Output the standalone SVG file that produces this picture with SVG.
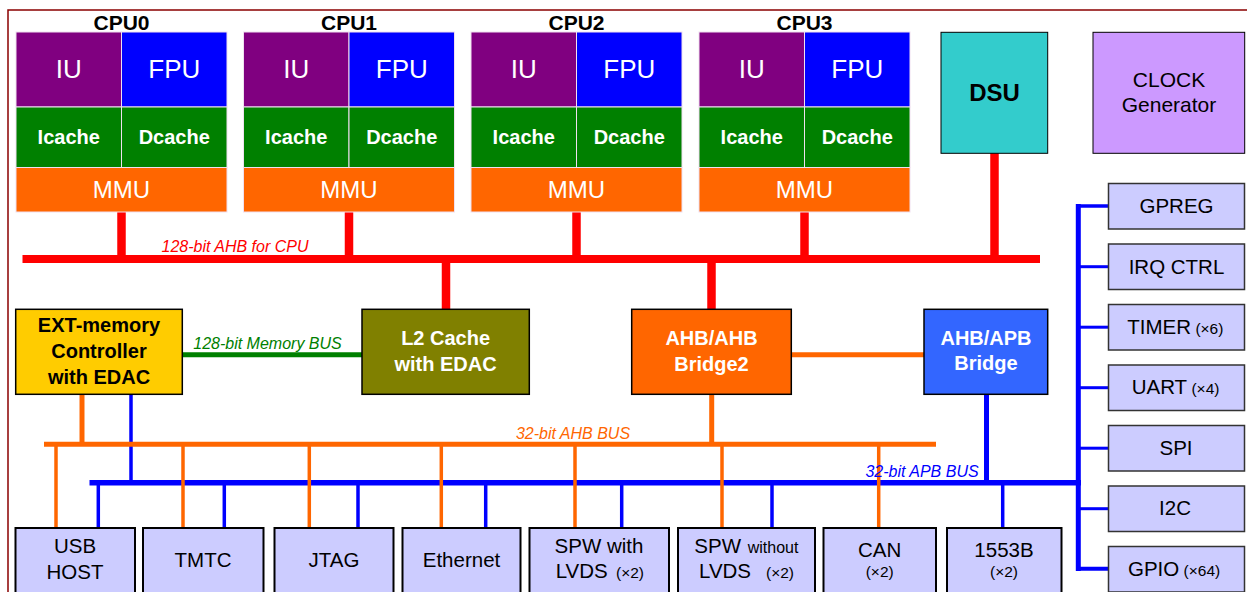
<svg xmlns="http://www.w3.org/2000/svg" width="1247" height="592" viewBox="0 0 1247 592">
<style>
text{font-family:"Liberation Sans",Arial,sans-serif}
.cpul{font-size:21px;font-weight:bold;fill:#000;text-anchor:middle}
.cell{stroke:#f0e0f0;stroke-width:1}
.big{font-size:26px;fill:#fff;text-anchor:middle}
.cache{font-size:20px;font-weight:bold;fill:#fff;text-anchor:middle}
.mmu{font-size:24px;fill:#fff;text-anchor:middle}
.mid{stroke:#000;stroke-width:1.5}
.midt{font-size:20px;font-weight:bold;text-anchor:middle}
.per{fill:#CCCCFF;stroke:#333;stroke-width:1.5}
.bot{fill:#CCCCFF;stroke:#000;stroke-width:2}
.pt{font-size:20.5px;fill:#000}
.pm{text-anchor:middle}
.sm{font-size:15.5px}
.bl{font-size:16px;font-style:italic;text-anchor:middle}
line{stroke-linecap:butt;fill:none}
.red{stroke:#FF0000}
.org{stroke:#FF6600}
.blu{stroke:#0000FF}
.grn{stroke:#008000}
</style>
<rect x="8" y="10" width="1400" height="700" fill="none" stroke="#8B0000" stroke-width="1.5"/>

<g id="connectors">
  <line class="red" x1="22.5" y1="259" x2="1040" y2="259" stroke-width="8"/>
  <line class="red" x1="121.5" y1="212" x2="121.5" y2="259" stroke-width="8.5"/>
  <line class="red" x1="349" y1="212" x2="349" y2="259" stroke-width="8.5"/>
  <line class="red" x1="576.5" y1="212" x2="576.5" y2="259" stroke-width="8.5"/>
  <line class="red" x1="804.5" y1="212" x2="804.5" y2="259" stroke-width="8.5"/>
  <line class="red" x1="994.5" y1="153" x2="994.5" y2="259" stroke-width="8.5"/>
  <line class="red" x1="446" y1="259" x2="446" y2="309.5" stroke-width="8.5"/>
  <line class="red" x1="711.5" y1="259" x2="711.5" y2="309.5" stroke-width="8.5"/>
  <line class="grn" x1="182.5" y1="354.7" x2="362" y2="354.7" stroke-width="5"/>
  <line class="org" x1="791.5" y1="354.7" x2="924" y2="354.7" stroke-width="5"/>
  <line class="org" x1="711.7" y1="394.5" x2="711.7" y2="444.5" stroke-width="5"/>
  <line class="org" x1="82" y1="394.5" x2="82" y2="444.5" stroke-width="5"/>
  <line class="blu" x1="131" y1="394.5" x2="131" y2="482.7" stroke-width="3.5"/>
  <line class="org" x1="44" y1="444.3" x2="936" y2="444.3" stroke-width="5"/>
  <line class="blu" x1="89.5" y1="482.7" x2="1081" y2="482.7" stroke-width="5.5"/>
  <line class="blu" x1="986.5" y1="394.5" x2="986.5" y2="481" stroke-width="5"/>
  <line class="blu" x1="1078.3" y1="204" x2="1078.3" y2="571" stroke-width="5"/>
  <line class="blu" x1="1076" y1="206" x2="1108.5" y2="206" stroke-width="3.5"/>
  <line class="blu" x1="1076" y1="568.8" x2="1108.5" y2="568.8" stroke-width="4"/>
  <line class="blu" x1="1080" y1="266.7" x2="1108.5" y2="266.7" stroke-width="3"/>
  <line class="blu" x1="1080" y1="327.2" x2="1108.5" y2="327.2" stroke-width="3"/>
  <line class="blu" x1="1080" y1="387.7" x2="1108.5" y2="387.7" stroke-width="3"/>
  <line class="blu" x1="1080" y1="448.2" x2="1108.5" y2="448.2" stroke-width="3"/>
  <line class="blu" x1="1080" y1="508.7" x2="1108.5" y2="508.7" stroke-width="3"/>
  <g stroke-width="3.5">
    <line class="blu" x1="98.3" y1="482.7" x2="98.3" y2="528"/>
    <line class="blu" x1="224.3" y1="482.7" x2="224.3" y2="528"/>
    <line class="blu" x1="358" y1="482.7" x2="358" y2="528"/>
    <line class="blu" x1="485.7" y1="482.7" x2="485.7" y2="528"/>
    <line class="blu" x1="621.7" y1="482.7" x2="621.7" y2="528"/>
    <line class="blu" x1="772" y1="482.7" x2="772" y2="528"/>
    <line class="blu" x1="1002.7" y1="482.7" x2="1002.7" y2="528"/>
    <line class="org" x1="56" y1="444.3" x2="56" y2="528"/>
    <line class="org" x1="183" y1="444.3" x2="183" y2="528"/>
    <line class="org" x1="309.3" y1="444.3" x2="309.3" y2="528"/>
    <line class="org" x1="441.3" y1="444.3" x2="441.3" y2="528"/>
    <line class="org" x1="575" y1="444.3" x2="575" y2="528"/>
    <line class="org" x1="722" y1="444.3" x2="722" y2="528"/>
    <line class="org" x1="878.7" y1="444.3" x2="878.7" y2="528"/>
  </g>
  <text class="bl" x="235" y="252" fill="#FF0000">128-bit AHB for CPU</text>
  <text class="bl" x="267.5" y="349" fill="#008000">128-bit Memory BUS</text>
  <text class="bl" x="573" y="438.5" fill="#FF6600">32-bit AHB BUS</text>
  <text class="bl" x="922" y="477" fill="#0000FF">32-bit APB BUS</text>
</g>

<g id="cpu0">
  <text class="cpul" x="121.5" y="30">CPU0</text>
  <rect class="cell" x="16" y="32" width="105.5" height="75" fill="#800080"/>
  <rect class="cell" x="121.5" y="32" width="105.5" height="75" fill="#0000FF"/>
  <rect class="cell" x="16" y="107" width="105.5" height="60.5" fill="#008000"/>
  <rect class="cell" x="121.5" y="107" width="105.5" height="60.5" fill="#008000"/>
  <rect class="cell" x="16" y="167.5" width="211" height="44.5" fill="#FF6600"/>
  <text class="big" x="68.75" y="77.5">IU</text>
  <text class="big" x="174.25" y="77.5">FPU</text>
  <text class="cache" x="68.75" y="144">Icache</text>
  <text class="cache" x="174.25" y="144">Dcache</text>
  <text class="mmu" x="121.5" y="198.3">MMU</text>
</g>
<g id="cpu1">
  <text class="cpul" x="349" y="30">CPU1</text>
  <rect class="cell" x="243.5" y="32" width="105.5" height="75" fill="#800080"/>
  <rect class="cell" x="349" y="32" width="105.5" height="75" fill="#0000FF"/>
  <rect class="cell" x="243.5" y="107" width="105.5" height="60.5" fill="#008000"/>
  <rect class="cell" x="349" y="107" width="105.5" height="60.5" fill="#008000"/>
  <rect class="cell" x="243.5" y="167.5" width="211" height="44.5" fill="#FF6600"/>
  <text class="big" x="296.25" y="77.5">IU</text>
  <text class="big" x="401.75" y="77.5">FPU</text>
  <text class="cache" x="296.25" y="144">Icache</text>
  <text class="cache" x="401.75" y="144">Dcache</text>
  <text class="mmu" x="349" y="198.3">MMU</text>
</g>
<g id="cpu2">
  <text class="cpul" x="576.5" y="30">CPU2</text>
  <rect class="cell" x="471" y="32" width="105.5" height="75" fill="#800080"/>
  <rect class="cell" x="576.5" y="32" width="105.5" height="75" fill="#0000FF"/>
  <rect class="cell" x="471" y="107" width="105.5" height="60.5" fill="#008000"/>
  <rect class="cell" x="576.5" y="107" width="105.5" height="60.5" fill="#008000"/>
  <rect class="cell" x="471" y="167.5" width="211" height="44.5" fill="#FF6600"/>
  <text class="big" x="523.75" y="77.5">IU</text>
  <text class="big" x="629.25" y="77.5">FPU</text>
  <text class="cache" x="523.75" y="144">Icache</text>
  <text class="cache" x="629.25" y="144">Dcache</text>
  <text class="mmu" x="576.5" y="198.3">MMU</text>
</g>
<g id="cpu3">
  <text class="cpul" x="804.5" y="30">CPU3</text>
  <rect class="cell" x="699" y="32" width="105.5" height="75" fill="#800080"/>
  <rect class="cell" x="804.5" y="32" width="105.5" height="75" fill="#0000FF"/>
  <rect class="cell" x="699" y="107" width="105.5" height="60.5" fill="#008000"/>
  <rect class="cell" x="804.5" y="107" width="105.5" height="60.5" fill="#008000"/>
  <rect class="cell" x="699" y="167.5" width="211" height="44.5" fill="#FF6600"/>
  <text class="big" x="751.75" y="77.5">IU</text>
  <text class="big" x="857.25" y="77.5">FPU</text>
  <text class="cache" x="751.75" y="144">Icache</text>
  <text class="cache" x="857.25" y="144">Dcache</text>
  <text class="mmu" x="804.5" y="198.3">MMU</text>
</g>

<g id="dsu">
  <rect x="941" y="32.3" width="106.7" height="121" fill="#33CCCC" stroke="#000" stroke-width="1"/>
  <text x="994.5" y="100.5" font-size="24" font-weight="bold" text-anchor="middle">DSU</text>
</g>
<g id="clock">
  <rect x="1093" y="32.3" width="151.7" height="121" fill="#CC99FF" stroke="#000" stroke-width="1"/>
  <text x="1169" y="87.3" font-size="21" text-anchor="middle">CLOCK</text>
  <text x="1169" y="111.7" font-size="21" text-anchor="middle">Generator</text>
</g>

<g id="extmem">
  <rect class="mid" x="15.7" y="309.3" width="166.6" height="85" fill="#FFCC00"/>
  <text class="midt" x="99" y="331.7">EXT-memory</text>
  <text class="midt" x="99" y="358.3">Controller</text>
  <text class="midt" x="99" y="383.5">with EDAC</text>
</g>
<g id="l2cache">
  <rect class="mid" x="362" y="309.3" width="167.3" height="85" fill="#808000"/>
  <text class="midt" x="445.6" y="345" fill="#fff">L2 Cache</text>
  <text class="midt" x="445.6" y="370.7" fill="#fff">with EDAC</text>
</g>
<g id="ahbahb">
  <rect class="mid" x="631.7" y="309.3" width="159.6" height="85" fill="#FF6600"/>
  <text class="midt" x="711.5" y="345" fill="#fff">AHB/AHB</text>
  <text class="midt" x="711.5" y="370.7" fill="#fff">Bridge2</text>
</g>
<g id="ahbapb">
  <rect class="mid" x="924" y="309.3" width="123.7" height="85" fill="#3366FF"/>
  <text class="midt" x="986" y="345" fill="#fff">AHB/APB</text>
  <text class="midt" x="986" y="370.3" fill="#fff">Bridge</text>
</g>

<g id="gpreg"><rect class="per" x="1108.5" y="183.5" width="136" height="45.5"/><text class="pt pm" x="1176.5" y="213">GPREG</text></g>
<g id="irqctrl"><rect class="per" x="1108.5" y="244" width="136" height="45.5"/><text class="pt pm" x="1176.5" y="273.5">IRQ CTRL</text></g>
<g id="timer"><rect class="per" x="1108.5" y="304.5" width="136" height="45.5"/><text class="pt" x="1127.3" y="333.8">TIMER<tspan class="sm"> (×6)</tspan></text></g>
<g id="uart"><rect class="per" x="1108.5" y="365" width="136" height="45.5"/><text class="pt" x="1131.7" y="394">UART<tspan class="sm"> (×4)</tspan></text></g>
<g id="spi"><rect class="per" x="1108.5" y="425.5" width="136" height="45.5"/><text class="pt pm" x="1176" y="454.5">SPI</text></g>
<g id="i2c"><rect class="per" x="1108.5" y="486" width="136" height="45.5"/><text class="pt pm" x="1175" y="515">I2C</text></g>
<g id="gpio"><rect class="per" x="1108.5" y="546.5" width="136" height="45.5"/><text class="pt" x="1128" y="576">GPIO<tspan class="sm"> (×64)</tspan></text></g>

<g id="usbhost"><rect class="bot" x="15.5" y="528" width="119.5" height="72"/><text class="pt pm" x="75" y="553.3">USB</text><text class="pt pm" x="75" y="579.3">HOST</text></g>
<g id="tmtc"><rect class="bot" x="143" y="528" width="120.5" height="72"/><text class="pt pm" x="203" y="566.7">TMTC</text></g>
<g id="jtag"><rect class="bot" x="274.5" y="528" width="119" height="72"/><text class="pt pm" x="334" y="566.7">JTAG</text></g>
<g id="ethernet"><rect class="bot" x="402.5" y="528" width="118" height="72"/><text class="pt pm" x="461.5" y="566.7">Ethernet</text></g>
<g id="spwlvds"><rect class="bot" x="529.5" y="528" width="139.5" height="72"/><text class="pt pm" x="599" y="552.7">SPW with</text><text class="pt" x="555.7" y="578.3">LVDS<tspan class="sm" x="616">(×2)</tspan></text></g>
<g id="spwnolvds"><rect class="bot" x="678" y="528" width="137" height="72"/><text class="pt" x="694.3" y="552.7">SPW<tspan font-size="16" x="747.7">without</tspan></text><text class="pt" x="699" y="578.3">LVDS<tspan class="sm" x="766">(×2)</tspan></text></g>
<g id="can"><rect class="bot" x="823.5" y="528" width="112.5" height="72"/><text class="pt pm" x="879.7" y="556.7">CAN</text><text class="pt pm sm" x="879.7" y="577.3">(×2)</text></g>
<g id="b1553"><rect class="bot" x="947" y="528" width="114.5" height="72"/><text class="pt pm" x="1004" y="556.7">1553B</text><text class="pt pm sm" x="1004" y="577.3">(×2)</text></g>
</svg>
